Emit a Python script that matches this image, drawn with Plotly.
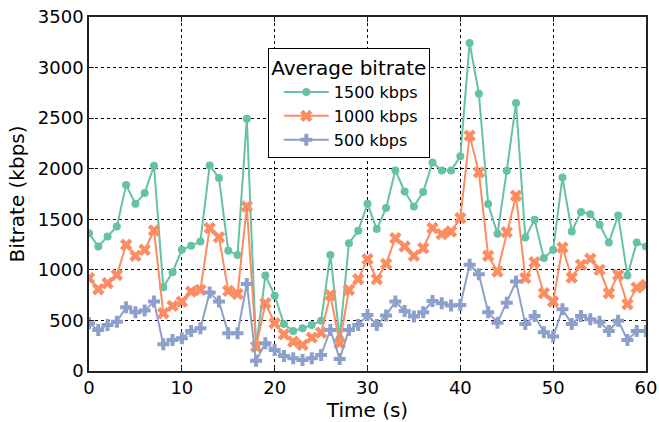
import plotly.graph_objects as go

time_s = list(range(61))
bitrate_1500 = [1363, 1231, 1330, 1429, 1838, 1653, 1759, 2030, 829, 977,
                1198, 1238, 1280, 2033, 1908, 1188, 1148, 2495, 240, 944,
                745, 465, 396, 423, 455, 498, 1148, 325, 1264, 1386,
                1653, 1403, 1611, 1983, 1775, 1627, 1769, 2062, 1983, 1983,
                2122, 3244, 2740, 1650, 1356, 1980, 2650, 1320, 1495, 1116,
                1198, 1914, 1379, 1571, 1551, 1446, 1271, 1538, 944, 1271, 1231]
bitrate_1000 = [918, 809, 868, 950, 1248, 1139, 1198, 1389, 571, 644,
                686, 785, 802, 1413, 1323, 792, 762, 1627, 240, 670,
                472, 363, 290, 257, 330, 379, 752, 274, 802, 908,
                1106, 908, 1059, 1314, 1231, 1139, 1215, 1413, 1353, 1379,
                1512, 2327, 1964, 1139, 983, 1373, 1733, 918, 1076, 769,
                686, 1221, 924, 1050, 1109, 1000, 769, 950, 660, 825, 851]
bitrate_500 = [472, 406, 455, 488, 630, 581, 597, 686, 264, 307,
               323, 396, 423, 775, 686, 373, 373, 861, 102, 274,
               208, 149, 125, 109, 125, 158, 406, 119, 406, 455,
               554, 455, 548, 686, 594, 538, 581, 693, 670, 647,
               653, 1050, 957, 581, 478, 676, 884, 465, 545, 383,
               340, 611, 465, 545, 512, 488, 396, 498, 307, 396, 396]

series_names = ["1500 kbps", "1000 kbps", "500 kbps"]
colors = ["#66c2a5", "#fc8d62", "#8da0cb"]
symbols = ["circle", "x", "cross"]
sizes = [8, 11, 10]

fig = go.Figure()
for name, ys, c, s, sz in zip(series_names, [bitrate_1500, bitrate_1000, bitrate_500], colors, symbols, sizes):
    fig.add_trace(go.Scatter(
        x=time_s, y=ys, name=name, mode="lines+markers",
        line=dict(color=c, width=2),
        marker=dict(symbol=s, size=sz, color=c, line=dict(width=0)),
    ))

axis_common = dict(
    showline=True, linecolor="#222", linewidth=1.5, mirror="allticks",
    ticks="inside", ticklen=5, tickcolor="#222",
    showgrid=True, gridcolor="black", griddash="dot", gridwidth=1,
    zeroline=False, tickfont=dict(size=18, color="black"), automargin=False,
    ticklabeloverflow="allow",
)
fig.update_xaxes(range=[0, 60], dtick=10, title=dict(text="Time (s)", font=dict(size=20), standoff=5), **axis_common)
fig.update_yaxes(range=[0, 3500], dtick=500, title=dict(text="Bitrate (kbps)", font=dict(size=20), standoff=8), **axis_common)

fig.update_layout(
    width=659, height=422,
    margin=dict(l=89, r=13, t=17, b=51),
    plot_bgcolor="white", paper_bgcolor="white",
    font=dict(family="DejaVu Sans", color="black"),
    legend=dict(
        x=0.321, y=0.912, xanchor="left", yanchor="top",
        bordercolor="black", borderwidth=1, bgcolor="white",
        title=dict(text="Average bitrate", font=dict(size=20), side="top center"),
        font=dict(size=16), itemwidth=45, indentation=10,
    ),
)
# remove the default page margin so the figure fills the window exactly
fig.write_html("out.html", config={"displayModeBar": False},
               post_script="document.body.style.margin='0';document.body.style.overflow='hidden';")
